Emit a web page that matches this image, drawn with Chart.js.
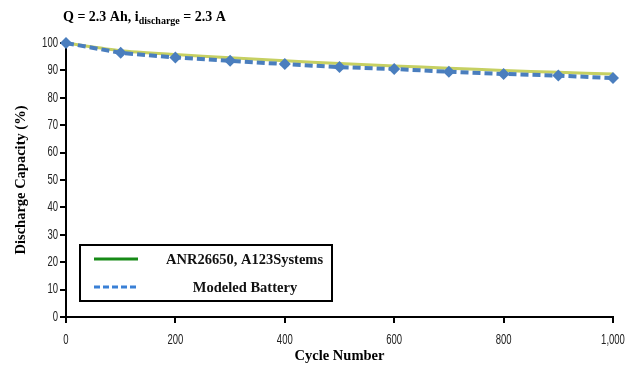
<!DOCTYPE html>
<html>
<head>
<meta charset="utf-8">
<script src="https://cdn.jsdelivr.net/npm/chart.js@4.4.1/dist/chart.umd.min.js"></script>
<style>
  html, body { margin: 0; padding: 0; background: #fff; }
  #wrap { position: relative; width: 626px; height: 365px; }
</style>
</head>
<body>
<div id="wrap"><canvas id="c" width="626" height="365"></canvas></div>
<script>
// Cycle numbers at which capacity was recorded
const cycles = [0, 100, 200, 300, 400, 500, 600, 700, 800, 900, 1000];
// Measured capacity of the ANR26650 cell (A123Systems), % of initial
const measured = [100, 97.2, 95.8, 94.6, 93.5, 92.5, 91.6, 90.8, 90.0, 89.3, 88.7];
// Capacity predicted by the battery model, %
const modeled = [100, 96.4, 94.7, 93.5, 92.3, 91.2, 90.5, 89.5, 88.7, 88.1, 87.2];
// Axis ticks
const xTicks = [0, 200, 400, 600, 800, 1000];
const yTicks = [0, 10, 20, 30, 40, 50, 60, 70, 80, 90, 100];

const seriesNames = ['ANR26650, A123Systems', 'Modeled Battery'];

const SERIF = "'Liberation Serif', 'Times New Roman', serif";
const SANS = "'Liberation Sans', Arial, sans-serif";

const toXY = (ys) => cycles.map((c, i) => ({ x: c, y: ys[i] }));

// Heading with a subscripted "discharge"
const headingPlugin = {
  id: 'heading',
  afterDraw(chart) {
    const ctx = chart.ctx;
    ctx.save();
    ctx.fillStyle = '#000';
    ctx.textBaseline = 'alphabetic';
    ctx.textAlign = 'left';
    let x = 63;
    const base = 21;
    ctx.font = 'bold 14px ' + SERIF;
    const a = 'Q = 2.3 Ah, i';
    ctx.fillText(a, x, base);
    x += ctx.measureText(a).width;
    ctx.font = 'bold 10px ' + SERIF;
    const s = 'discharge';
    ctx.fillText(s, x, base + 3);
    x += ctx.measureText(s).width;
    ctx.font = 'bold 14px ' + SERIF;
    ctx.fillText(' = 2.3 A', x, base);
    ctx.restore();
  }
};

// Narrow tick labels, placed at the positions the scales give
const narrowTicksPlugin = {
  id: 'narrowTicks',
  afterDraw(chart) {
    const ctx = chart.ctx;
    const xs = chart.scales.x, ys = chart.scales.y;
    const squeeze = 0.68;
    ctx.save();
    ctx.fillStyle = '#222';
    ctx.font = '14px ' + SANS;
    ctx.textBaseline = 'middle';
    xs.ticks.forEach(t => {
      const label = Number(t.value).toLocaleString('en-US');
      const px = xs.getPixelForValue(t.value);
      ctx.save();
      ctx.translate(px, 340);
      ctx.scale(squeeze, 1);
      ctx.textAlign = 'center';
      ctx.fillText(label, 0, 0);
      ctx.restore();
    });
    ys.ticks.forEach(t => {
      const py = ys.getPixelForValue(t.value);
      ctx.save();
      ctx.translate(58, py);
      ctx.scale(squeeze, 1);
      ctx.textAlign = 'right';
      ctx.fillText(String(t.value), 0, 0);
      ctx.restore();
    });
    ctx.restore();
  }
};

// Boxed legend in the lower-left of the plot
const boxLegendPlugin = {
  id: 'boxLegend',
  afterDraw(chart) {
    const ctx = chart.ctx;
    ctx.save();
    ctx.fillStyle = '#fff';
    ctx.fillRect(80, 245, 252, 56);
    ctx.strokeStyle = '#000';
    ctx.lineWidth = 2;
    ctx.strokeRect(80, 245, 252, 56);

    ctx.lineWidth = 3;
    ctx.strokeStyle = 'rgb(22,138,22)';
    ctx.beginPath();
    ctx.moveTo(94, 259);
    ctx.lineTo(138, 259);
    ctx.stroke();

    ctx.strokeStyle = 'rgb(58,128,214)';
    ctx.setLineDash([6, 3]);
    ctx.beginPath();
    ctx.moveTo(94, 287);
    ctx.lineTo(138, 287);
    ctx.stroke();
    ctx.setLineDash([]);

    ctx.fillStyle = '#111';
    ctx.font = 'bold 14.5px ' + SERIF;
    ctx.textBaseline = 'middle';
    ctx.textAlign = 'left';
    ctx.fillText(seriesNames[0], 166, 260);
    ctx.textAlign = 'center';
    ctx.fillText(seriesNames[1], 245, 288);
    ctx.restore();
  }
};

new Chart(document.getElementById('c'), {
  type: 'line',
  data: {
    datasets: [
      {
        label: seriesNames[0],
        data: toXY(measured),
        borderColor: 'rgb(198,208,98)',
        borderWidth: 3,
        pointRadius: 0,
        tension: 0.2,
        clip: false,
        order: 2
      },
      {
        label: seriesNames[1],
        data: toXY(modeled),
        borderColor: 'rgb(74,126,190)',
        backgroundColor: 'rgb(74,126,190)',
        borderWidth: 4,
        borderDash: [8, 4],
        pointStyle: 'rectRot',
        pointRadius: 6,
        pointBorderWidth: 0,
        pointBackgroundColor: 'rgb(74,126,190)',
        tension: 0,
        clip: false,
        order: 1
      }
    ]
  },
  options: {
    responsive: false,
    animation: false,
    layout: { padding: { top: 43, right: 13, bottom: 0, left: 0 } },
    plugins: {
      legend: { display: false },
      tooltip: { enabled: false },
      title: { display: false }
    },
    scales: {
      x: {
        type: 'linear',
        min: 0,
        max: 1000,
        afterBuildTicks(scale) { scale.ticks = xTicks.map(v => ({ value: v })); },
        afterFit(scale) { scale.height = 48; scale.paddingLeft = 0; scale.paddingRight = 0; },
        border: { display: true, color: '#000', width: 2 },
        grid: { display: true, drawOnChartArea: false, drawTicks: true, tickLength: 6, color: '#000', lineWidth: 2 },
        ticks: { display: false },
        title: {
          display: true,
          text: 'Cycle Number',
          color: '#000',
          font: { family: SERIF, size: 14.5, weight: 'bold' },
          padding: { top: 0, bottom: 0 }
        }
      },
      y: {
        type: 'linear',
        min: 0,
        max: 100,
        afterBuildTicks(scale) { scale.ticks = yTicks.map(v => ({ value: v })); },
        afterFit(scale) { scale.width = 66; scale.paddingTop = 0; scale.paddingBottom = 0; },
        border: { display: true, color: '#000', width: 2 },
        grid: { display: true, drawOnChartArea: false, drawTicks: true, tickLength: 6, color: '#000', lineWidth: 2 },
        ticks: { display: false },
        title: {
          display: true,
          text: 'Discharge Capacity (%)',
          color: '#000',
          font: { family: SERIF, size: 14.5, weight: 'bold' },
          padding: { top: 13, bottom: 0 }
        }
      }
    }
  },
  plugins: [headingPlugin, narrowTicksPlugin, boxLegendPlugin]
});
</script>
</body>
</html>
